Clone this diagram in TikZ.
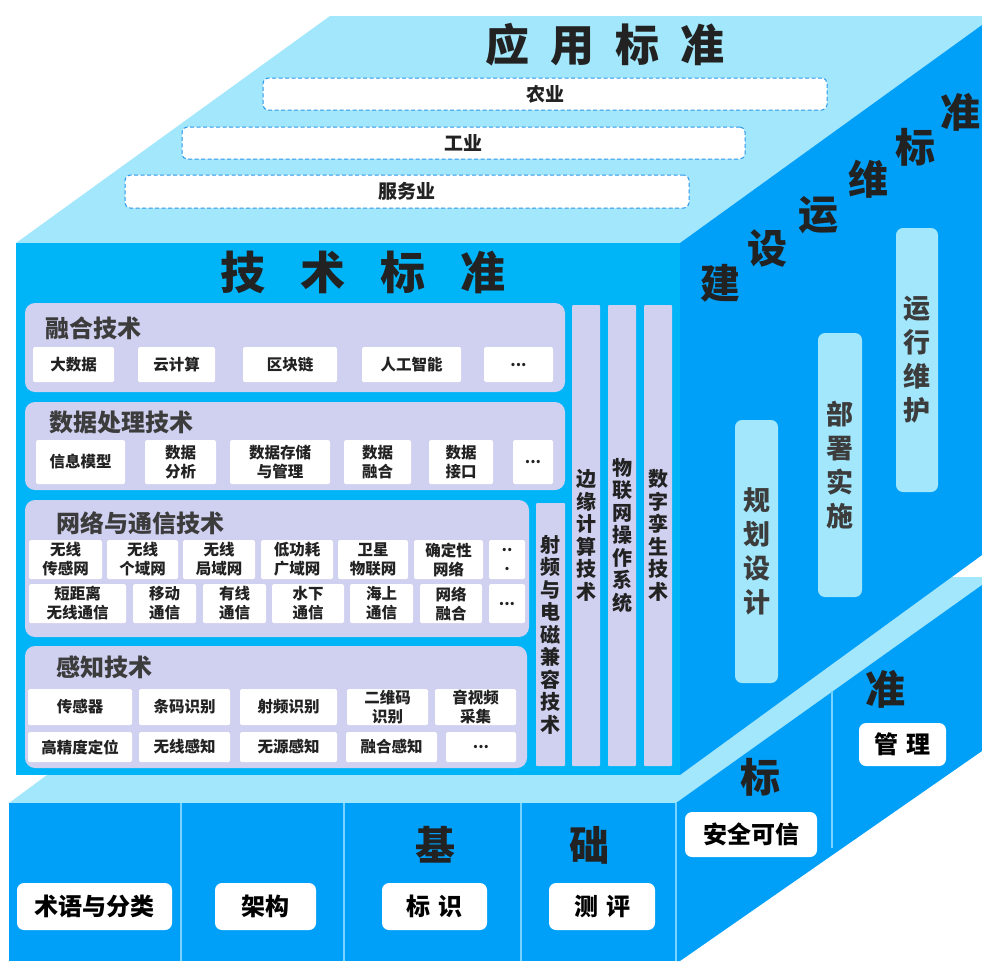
\documentclass[tikz,border=0pt]{standalone}
\usepackage{fontspec}
\setmainfont{Noto Sans CJK SC}
\newfontfamily\heavy{Noto Sans CJK SC Black}
\definecolor{topc}{RGB}{162,231,251}
\definecolor{frontc}{RGB}{0,180,248}
\definecolor{darkc}{RGB}{0,159,248}
\definecolor{lav}{RGB}{208,208,240}
\definecolor{txt}{RGB}{34,34,34}
\definecolor{lbl}{RGB}{60,60,60}
\definecolor{dashc}{RGB}{40,150,235}
\definecolor{divc}{RGB}{120,210,255}
\newcommand\bxx[7]{\node[#1, minimum width={(#4-#2)*1pt}, minimum height={(#5-#3)*1pt}] (#6) at ({(#2+#4)/2},{(#3+#5)/2}) {#7};}
\tikzset{
  item/.style={fill=white, rounded corners=1.5pt, inner sep=0pt, align=center, text=txt, font=\bfseries\fontsize{15.5}{19}\selectfont},
  panel/.style={fill=lav, rounded corners=10pt, inner sep=0pt},
  vbar/.style={fill=lav, rounded corners=1pt, inner sep=0pt, align=center, text=txt, font=\bfseries\fontsize{20}{22.5}\selectfont},
  rbar/.style={fill=topc, rounded corners=7pt, inner sep=0pt, align=center, text=lbl, font=\bfseries\fontsize{27}{34}\selectfont},
  wbox/.style={fill=white, rounded corners=7pt, inner sep=0pt, text=black, font=\bfseries\fontsize{24}{28}\selectfont},
  tbox/.style={fill=white, draw=dashc, dash pattern=on 4pt off 2.5pt, rounded corners=5pt, line width=1pt, inner sep=0pt, text=txt, font=\bfseries\fontsize{19}{22}\selectfont},
  plabel/.style={anchor=west, inner sep=0pt, text=lbl, font=\bfseries\fontsize{24}{28}\selectfont},
  big/.style={inner sep=0pt, text=txt, font=\heavy\fontsize{40}{44}\selectfont},
  divline/.style={draw=divc, line width=1.2pt}
}
\begin{document}
\begin{tikzpicture}[x=1pt, y=-1pt]
\useasboundingbox (0,0) rectangle (982,961);
\clip (0,0) rectangle (982,961);
% faces
\fill[topc] (16,243) -- (330,16) -- (982,16) -- (982,25) -- (680,243) -- cycle;
\fill[topc] (9,803) -- (47,775) -- (680,775) -- (952,577) -- (982,577) -- (982,585) -- (676,803) -- cycle;
\fill[darkc] (680,243) -- (982,25) -- (982,555) -- (680,775) -- cycle;
\fill[frontc] (16,243) rectangle (680,775);
\fill[darkc] (9,803) rectangle (676,961);
\fill[darkc] (676,803) -- (982,585) -- (982,751) -- (680,961) -- (676,961) -- cycle;
\draw[divline] (181,803) -- (181,961);
\draw[divline] (344,803) -- (344,961);
\draw[divline] (521,803) -- (521,961);
\draw[divline] (676,803) -- (676,961);
\draw[divline] (832,691) -- (832,848);

% top face
\node[inner sep=0pt, text=txt, font=\heavy\fontsize{44}{48}\selectfont] (appt) at (605,45) {应\hspace{21pt}用\hspace{21pt}标\hspace{21pt}准};
\bxx{tbox}{263}{78}{827}{110}{ag}{农业}
\bxx{tbox}{182}{127}{745}{159}{ind}{工业}
\bxx{tbox}{125}{175}{689}{208}{svc}{服务业}

% technical standards
\node[inner sep=0pt, text=txt, font=\heavy\fontsize{45}{48}\selectfont] (techt) at (363,272) {技\hspace{35pt}术\hspace{35pt}标\hspace{35pt}准};

\bxx{panel}{25}{303}{565}{392}{p1}{}
\node[plabel] (p1l) at (45,328) {融合技术};
\bxx{item}{33}{347}{114}{382}{f1}{大数据}
\bxx{item}{138}{347}{215}{382}{f2}{云计算}
\bxx{item}{243}{347}{337}{382}{f3}{区块链}
\bxx{item}{362}{347}{461}{382}{f4}{人工智能}
\bxx{item}{484}{347}{553}{382}{f5}{...}

\bxx{panel}{25}{402}{565}{490}{p2}{}
\node[plabel] (p2l) at (49,422) {数据处理技术};
\bxx{item}{36}{440}{125}{484}{d1}{信息模型}
\bxx{item}{145}{440}{216}{484}{d2}{数据\\分析}
\bxx{item}{230}{440}{330}{484}{d3}{数据存储\\与管理}
\bxx{item}{344}{440}{411}{484}{d4}{数据\\融合}
\bxx{item}{429}{440}{493}{484}{d5}{数据\\接口}
\bxx{item}{513}{440}{553}{484}{d6}{...}

\bxx{panel}{25}{500}{529}{637}{p3}{}
\node[plabel] (p3l) at (56,523) {网络与通信技术};
\bxx{item}{29}{540}{102}{579}{n1}{无线\\传感网}
\bxx{item}{107}{540}{178}{579}{n2}{无线\\个域网}
\bxx{item}{183}{540}{255}{579}{n3}{无线\\局域网}
\bxx{item}{261}{540}{333}{579}{n4}{低功耗\\广域网}
\bxx{item}{338}{540}{408}{579}{n5}{卫星\\物联网}
\bxx{item}{414}{540}{483}{579}{n6}{确定性\\网络}
\bxx{item}{489}{540}{525}{579}{n7}{..\\.}
\bxx{item}{29}{584}{126}{623}{m1}{短距离\\无线通信}
\bxx{item}{133}{584}{196}{623}{m2}{移动\\通信}
\bxx{item}{203}{584}{266}{623}{m3}{有线\\通信}
\bxx{item}{272}{584}{344}{623}{m4}{水下\\通信}
\bxx{item}{350}{584}{413}{623}{m5}{海上\\通信}
\bxx{item}{420}{584}{482}{623}{m6}{网络\\融合}
\bxx{item}{489}{584}{525}{623}{m7}{...}

\bxx{panel}{25}{646}{527}{768}{p4}{}
\node[plabel] (p4l) at (56,667) {感知技术};
\bxx{item}{28}{689}{132}{725}{s1}{传感器}
\bxx{item}{139}{689}{230}{725}{s2}{条码识别}
\bxx{item}{240}{689}{337}{725}{s3}{射频识别}
\bxx{item}{347}{689}{428}{725}{s4}{二维码\\识别}
\bxx{item}{435}{689}{516}{725}{s5}{音视频\\采集}
\bxx{item}{28}{732}{132}{762}{t1}{高精度定位}
\bxx{item}{139}{732}{230}{762}{t2}{无线感知}
\bxx{item}{240}{732}{337}{762}{t3}{无源感知}
\bxx{item}{346}{732}{437}{762}{t4}{融合感知}
\bxx{item}{446}{732}{516}{762}{t5}{...}

\bxx{vbar}{536}{503}{565}{766}{v1}{射\\频\\与\\电\\磁\\兼\\容\\技\\术}
\bxx{vbar}{572}{305}{600}{766}{v2}{边\\缘\\计\\算\\技\\术}
\bxx{vbar}{608}{305}{636}{766}{v3}{物\\联\\网\\操\\作\\系\\统}
\bxx{vbar}{644}{305}{672}{766}{v4}{数\\字\\孪\\生\\技\\术}

% right face
\node[big] (r1) at (720,283) {建};
\node[big] (r2) at (767,248) {设};
\node[big] (r3) at (818,215) {运};
\node[big] (r4) at (868,179) {维};
\node[big] (r5) at (915,147) {标};
\node[big] (r6) at (960,112) {准};
\bxx{rbar}{735}{420}{778}{683}{b1}{规\\划\\设\\计}
\bxx{rbar}{818}{333}{862}{597}{b2}{部\\署\\实\\施}
\bxx{rbar}{896}{228}{938}{492}{b3}{运\\行\\维\\护}

% bottom block
\node[big] (g1) at (435,845) {基};
\node[big] (g2) at (589,845) {础};
\node[big] (g3) at (760,777) {标};
\node[big] (g4) at (885,689) {准};
\bxx{wbox}{17}{883}{172}{930}{w1}{术语与分类}
\bxx{wbox}{215}{883}{316}{930}{w2}{架构}
\bxx{wbox}{382}{883}{487}{930}{w3}{标\hspace{8pt}识}
\bxx{wbox}{549}{883}{655}{930}{w4}{测\hspace{8pt}评}
\bxx{wbox}{685}{812}{817}{857}{w5}{安全可信}
\bxx{wbox}{859}{723}{946}{766}{w6}{管\hspace{8pt}理}
\end{tikzpicture}
\end{document}
